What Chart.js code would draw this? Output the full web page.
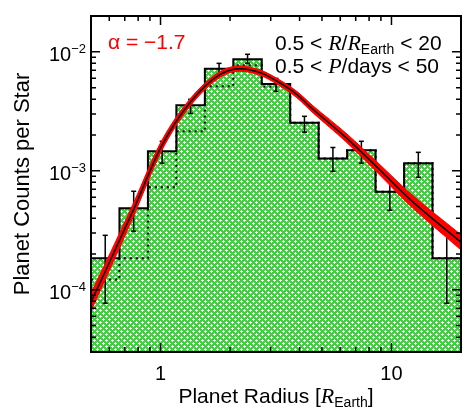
<!DOCTYPE html>
<html>
<head>
<meta charset="utf-8">
<script src="https://cdn.jsdelivr.net/npm/chart.js@4.4.1/dist/chart.umd.min.js"></script>
<style>
  html, body { margin: 0; padding: 0; background: #fff; }
  #wrap { width: 471px; height: 416px; }
</style>
</head>
<body>
<div id="wrap"><canvas id="chart" width="471" height="416"></canvas></div>
<script>
// 13 log-spaced radius bins, 0.5 - 20 R_Earth
const binEdges = [0.5, 0.664, 0.882, 1.171, 1.556, 2.066, 2.744, 3.644, 4.840, 6.427, 8.536, 11.34, 15.06, 20];
// solid (corrected) and dotted (raw) histograms, planets per star
const countsCorrected = [1.84e-4, 4.84e-4, 1.46e-3, 3.55e-3, 7.22e-3, 8.65e-3, 5.36e-3, 2.54e-3, 1.27e-3, 1.49e-3, 6.68e-4, 1.16e-3, 1.84e-4];
const countsRaw = [1.22e-4, 1.84e-4, 7.26e-4, 2.15e-3, 5.13e-3, 7.7e-3, 5.1e-3, 2.54e-3, 1.27e-3, 1.49e-3, 6.68e-4, 1.16e-3, 1.84e-4];
const errHigh = [2.87e-4, 6.73e-4, 1.77e-3, 3.99e-3, 8.0e-3, 9.53e-3, 5.98e-3, 2.87e-3, 1.57e-3, 1.77e-3, 8.81e-4, 1.43e-3, 2.92e-4];
const errLow = [7.71e-5, 3.10e-4, 1.16e-3, 3.04e-3, 6.59e-3, 8.0e-3, 4.66e-3, 2.11e-3, 9.9e-4, 1.16e-3, 4.66e-4, 8.81e-4, 7.71e-5];

// fitted model and its uncertainty band
const modelRadius = [0.5, 0.578, 0.765, 1.01, 1.346, 1.813, 2.21, 2.70, 3.18, 3.88, 4.57, 6.36, 8.85, 11.9, 20];
const modelCounts = [7.9e-5, 1.44e-4, 4.74e-4, 1.61e-3, 3.77e-3, 6.47e-3, 7.22e-3, 6.68e-3, 5.69e-3, 4.40e-3, 3.29e-3, 1.90e-3, 1.03e-3, 5.87e-4, 2.51e-4];
const modelUpper = [9.40e-5, 1.68e-4, 5.40e-4, 1.78e-3, 4.04e-3, 6.84e-3, 7.60e-3, 7.03e-3, 6.01e-3, 4.67e-3, 3.52e-3, 2.07e-3, 1.14e-3, 6.62e-4, 2.90e-4];
const modelLower = [6.65e-5, 1.23e-4, 4.17e-4, 1.47e-3, 3.52e-3, 6.12e-3, 6.87e-3, 6.35e-3, 5.38e-3, 4.14e-3, 3.07e-3, 1.75e-3, 9.31e-4, 5.21e-4, 2.16e-4];

const xMajorTicks = [1, 10];
const xTickLabels = ['1', '10'];
const xMinorTicks = [0.6, 0.7, 0.8, 0.9, 2, 3, 4, 5, 6, 7, 8, 9];
const yMajorTicks = [1e-4, 1e-3, 1e-2];
const yTickExponents = ['\u22124', '\u22123', '\u22122'];
const yMinorTicks = [4e-5, 5e-5, 6e-5, 7e-5, 8e-5, 9e-5, 2e-4, 3e-4, 4e-4, 5e-4, 6e-4, 7e-4, 8e-4, 9e-4,
  2e-3, 3e-3, 4e-3, 5e-3, 6e-3, 7e-3, 8e-3, 9e-3];

const SANS = '"Liberation Sans", Arial, Helvetica, sans-serif';
const SERIF = '"Liberation Serif", "Times New Roman", serif';

(() => {
  const canvas = document.getElementById('chart');
  const ctx = canvas.getContext('2d');

  function makeHatch() {
    const c = document.createElement('canvas');
    c.width = 6;
    c.height = 6;
    const g = c.getContext('2d');
    g.fillStyle = '#3dd23d';
    g.fillRect(0, 0, 6, 6);
    g.fillStyle = '#ffffff';
    [[1, 1], [4, 4]].forEach(([cx, cy]) => {
      g.fillRect(cx - 1, cy, 3, 1);
      g.fillRect(cx, cy - 1, 1, 3);
    });
    return ctx.createPattern(c, 'repeat');
  }

  function stepPoints(values) {
    const pts = values.map((v, i) => ({ x: binEdges[i], y: v }));
    pts.push({ x: binEdges[binEdges.length - 1], y: values[values.length - 1] });
    return pts;
  }

  function errorPoints() {
    const pts = [];
    errLow.forEach((lo, i) => {
      const c = Math.sqrt(binEdges[i] * binEdges[i + 1]);
      pts.push({ x: c, y: lo }, { x: c, y: errHigh[i] }, { x: c, y: null });
    });
    return pts;
  }

  const curve = (vals) => modelRadius.map((r, i) => ({ x: r, y: vals[i] }));

  function drawParts(parts, x, y, align) {
    let w = 0;
    parts.forEach((p) => { ctx.font = p.font; w += ctx.measureText(p.text).width; });
    let cx = align === 'right' ? x - w : align === 'center' ? x - w / 2 : x;
    parts.forEach((p) => {
      ctx.font = p.font;
      ctx.fillText(p.text, cx, y + (p.dy || 0));
      cx += ctx.measureText(p.text).width;
    });
  }

  const decorations = {
    id: 'decorations',
    afterDatasetsDraw(chart) {
      const { chartArea: a, scales: { x, y } } = chart;
      ctx.save();
      ctx.strokeStyle = '#000';
      ctx.lineWidth = 1.5;
      ctx.beginPath();
      const xTick = (v, len) => {
        const px = x.getPixelForValue(v);
        ctx.moveTo(px, a.bottom); ctx.lineTo(px, a.bottom - len);
        ctx.moveTo(px, a.top); ctx.lineTo(px, a.top + len);
      };
      const yTick = (v, len) => {
        const py = y.getPixelForValue(v);
        ctx.moveTo(a.left, py); ctx.lineTo(a.left + len, py);
        ctx.moveTo(a.right, py); ctx.lineTo(a.right - len, py);
      };
      xMajorTicks.forEach((v) => xTick(v, 9));
      xMinorTicks.forEach((v) => xTick(v, 5));
      yMajorTicks.forEach((v) => yTick(v, 9));
      yMinorTicks.forEach((v) => yTick(v, 5));
      ctx.stroke();

      ctx.lineWidth = 2;
      ctx.strokeRect(a.left, a.top, a.right - a.left, a.bottom - a.top);

      ctx.fillStyle = '#000';
      ctx.textAlign = 'left';
      ctx.textBaseline = 'alphabetic';
      const tickFont = '20px ' + SANS;
      const supFont = '13px ' + SANS;

      xMajorTicks.forEach((v, i) => {
        drawParts([{ text: xTickLabels[i], font: tickFont }], x.getPixelForValue(v), 380, 'center');
      });
      yMajorTicks.forEach((v, i) => {
        const py = y.getPixelForValue(v);
        drawParts([
          { text: '10', font: tickFont },
          { text: yTickExponents[i], font: supFont, dy: -8 }
        ], 86, py + 9, 'right');
      });

      const titleFont = '21px ' + SANS;
      const italic = 'italic 22px ' + SERIF;
      const subFont = '14px ' + SANS;
      drawParts([
        { text: 'Planet Radius [', font: titleFont },
        { text: 'R', font: italic },
        { text: 'Earth', font: subFont, dy: 4 },
        { text: ']', font: titleFont }
      ], (a.left + a.right) / 2, 403, 'center');

      ctx.save();
      ctx.translate(29, (a.top + a.bottom) / 2);
      ctx.rotate(-Math.PI / 2);
      drawParts([{ text: 'Planet Counts per Star', font: '22px ' + SANS }], 0, 0, 'center');
      ctx.restore();

      const noteFont = '21px ' + SANS;
      const noteItalic = 'italic 22px ' + SERIF;
      ctx.fillStyle = '#ff0000';
      drawParts([{ text: '\u03b1 = \u22121.7', font: noteFont }], 108, 49, 'left');
      ctx.fillStyle = '#000';
      drawParts([
        { text: '0.5 < ', font: noteFont },
        { text: 'R', font: noteItalic },
        { text: '/', font: noteFont },
        { text: 'R', font: noteItalic },
        { text: 'Earth', font: subFont, dy: 4 },
        { text: ' < 20', font: noteFont }
      ], 275, 50, 'left');
      drawParts([
        { text: '0.5 < ', font: noteFont },
        { text: 'P', font: noteItalic },
        { text: '/days < 50', font: noteFont }
      ], 275, 73, 'left');
      ctx.restore();
    }
  };

  new Chart(canvas, {
    type: 'line',
    data: {
      datasets: [
        {
          label: 'model',
          data: curve(modelCounts),
          borderColor: '#000',
          borderWidth: 1.5,
          cubicInterpolationMode: 'monotone',
          pointRadius: 0,
          fill: false,
          clip: 0,
          order: 0
        },
        {
          label: 'model band line',
          data: curve(modelCounts),
          borderColor: '#ff0000',
          borderWidth: 5,
          cubicInterpolationMode: 'monotone',
          pointRadius: 0,
          fill: false,
          clip: 0,
          order: 1
        },
        {
          label: 'band upper',
          data: curve(modelUpper),
          borderWidth: 1,
          borderColor: '#ff0000',
          backgroundColor: '#ff0000',
          cubicInterpolationMode: 'monotone',
          pointRadius: 0,
          fill: '+1',
          clip: 0,
          order: 2
        },
        {
          label: 'band lower',
          data: curve(modelLower),
          borderWidth: 1,
          borderColor: '#ff0000',
          cubicInterpolationMode: 'monotone',
          pointRadius: 0,
          fill: false,
          clip: 0,
          order: 3
        },
        {
          label: 'errors',
          data: errorPoints(),
          borderColor: '#000',
          borderWidth: 1.5,
          spanGaps: false,
          pointStyle: 'line',
          pointRadius: 2.5,
          pointBorderWidth: 1.5,
          pointBorderColor: '#000',
          fill: false,
          clip: 0,
          order: 4
        },
        {
          label: 'raw',
          data: stepPoints(countsRaw),
          stepped: true,
          borderColor: '#000',
          borderWidth: 2,
          borderDash: [2, 4],
          pointRadius: 0,
          fill: false,
          order: 5
        },
        {
          label: 'corrected',
          data: stepPoints(countsCorrected),
          stepped: true,
          borderColor: '#000',
          borderWidth: 2,
          backgroundColor: makeHatch(),
          pointRadius: 0,
          fill: 'start',
          order: 6
        }
      ]
    },
    options: {
      responsive: false,
      animation: false,
      events: [],
      layout: { padding: { left: 91, top: 16, right: 10, bottom: 64 } },
      plugins: { legend: { display: false }, tooltip: { enabled: false } },
      scales: {
        x: { type: 'logarithmic', min: 0.5, max: 20, display: false },
        y: { type: 'logarithmic', min: 3e-5, max: 2e-2, display: false }
      }
    },
    plugins: [decorations]
  });
})();
</script>
</body>
</html>
